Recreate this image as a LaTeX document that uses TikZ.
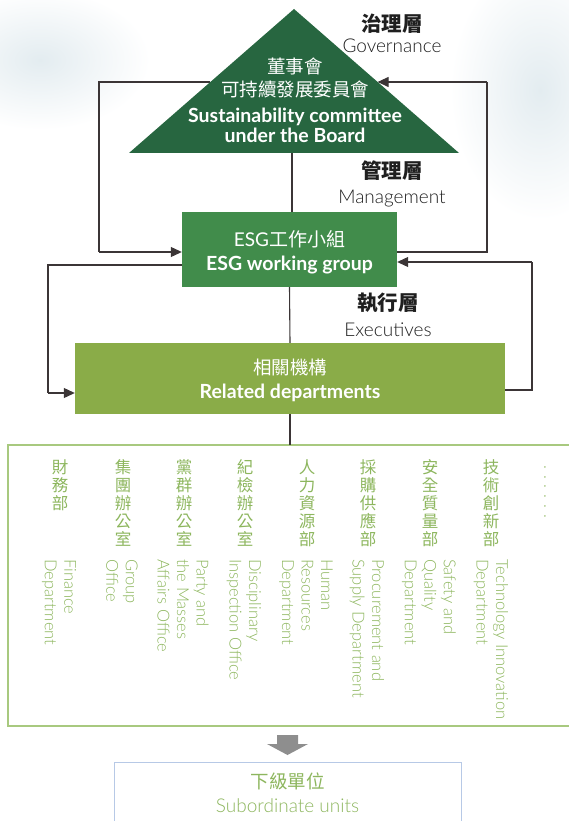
\documentclass[tikz,border=0pt]{standalone}
\usepackage{fontspec}
\setmainfont{Lato}
\newfontfamily\cjk{Noto Sans CJK TC}
\IfFontExistsTF{Lato Light}{\newfontfamily\light{Lato Light}}{\newfontfamily\light{Lato}}
\usetikzlibrary{arrows.meta}

\definecolor{boardgreen}{HTML}{276640}
\definecolor{esggreen}{HTML}{418C4B}
\definecolor{relgreen}{HTML}{8AAC48}
\definecolor{deptgreen}{HTML}{8DB65E}
\definecolor{deptline}{HTML}{A8C97F}
\definecolor{subline}{HTML}{B7C9E6}
\definecolor{linegray}{HTML}{3B3536}
\definecolor{arrowgray}{HTML}{8E8E8E}
\definecolor{bgblue}{HTML}{E3ECF0}

\begin{document}
\begin{tikzpicture}[x=1pt,y=-1pt,
  link/.style={draw=linegray, line width=1.1pt},
  tip/.style={-{Triangle[length=11pt,width=10pt]}},
  layercn/.style={inner sep=0, text=black!88, font={\cjk\bfseries\fontsize{20.5}{24}\selectfont}},
  layeren/.style={inner sep=0, anchor=base, text=black!88, font={\light\fontsize{19}{22}\selectfont}},
  boxcn/.style={inner sep=0, text=white, font={\cjk\fontsize{18.5}{22}\selectfont}},
  boxen/.style={inner sep=0, anchor=base, text=white, font={\bfseries\fontsize{19.5}{22}\selectfont}},
  deptcn/.style={anchor=north, align=center, inner sep=0, text=deptgreen, font={\cjk\fontsize{16.5}{18}\selectfont}},
  depten/.style={rotate=-90, anchor=west, align=left, inner sep=0, text=deptgreen, font={\light\fontsize{16.5}{19.5}\selectfont}}]
\useasboundingbox (0,0) rectangle (569,821);

% watercolour background
\shade[inner color=bgblue, outer color=white] (40,60) ellipse (110 and 70);
\shade[inner color=bgblue, outer color=white] (540,90) ellipse (90 and 130);

% board triangle
\coordinate (apex) at (294,9);
\coordinate (baseL) at (129,153);
\coordinate (baseR) at (459,153);
\coordinate (base) at (292,153);
\coordinate (tl) at (210.4,82);
\coordinate (tr) at (377.6,82);

% boxes
\node[fill=esggreen, minimum width=215pt, minimum height=75pt, inner sep=0] (esg) at (289.5,249.5) {};
\node[fill=relgreen, minimum width=430pt, minimum height=71pt, inner sep=0] (rel) at (290,378.5) {};
\draw[deptline, line width=1.6pt] (8,445) rectangle (590,726);
\coordinate (deptstop) at (290,445);

% feedback loops
\draw[link] (tl) -| (99,252) coordinate (bl1);
\draw[link, tip] (bl1) -- (esg.west |- bl1);
\draw[link] (esg.east |- 0,252) -| (487,82) coordinate (br1);
\draw[link, tip] (br1) -- (tr);
\draw[link] (esg.west |- 0,265) -| (48,393) coordinate (bl2);
\draw[link, tip] (bl2) -- (rel.west |- bl2);
\draw[link] (rel.east |- 0,390) -| (532,262) coordinate (br2);
\draw[link, tip] (br2) -- (esg.east |- br2);

% vertical links
\draw[link] (base) -- (base |- esg.north);
\draw[link] (esg.south) -- (rel.north);
\draw[link] (rel.south) -- (deptstop);

\fill[boardgreen] (apex) -- (baseR) -- (baseL) -- cycle;

% layer labels
\node[layercn] (gov) at (392,24) {治理層};
\node[layeren] (govEn) at (392,53) {Governance};
\node[layercn] (mgmt) at (392,171) {管理層};
\node[layeren] (mgmtEn) at (392,204) {Management};
\node[layercn] (exe) at (388,303) {執行層};
\node[layeren] (exeEn) at (388,336) {Executives};

% box texts
\node[boxcn] (boardA) at (295,66) {董事會};
\node[boxcn] (boardB) at (295,89) {可持續發展委員會};
\node[boxen] (boardC) at (295,123) {Sustainability committee};
\node[boxen] (boardD) at (295,143) {under the Board};
\node[boxcn] (esgA) at (289.5,239) {\fontsize{19}{22}\rmfamily ESG\cjk 工作小組};
\node[boxen] (esgB) at (289.5,270) {ESG working group};
\node[boxcn] (relA) at (290,367) {相關機構};
\node[boxen] (relB) at (290,398) {Related departments};

% departments
\node[deptcn] (cn1) at (60,459) {財\\務\\部};
\node[depten] (en1) at (59,559) {Finance\\Department};
\node[deptcn] (cn2) at (123,459) {集\\團\\辦\\公\\室};
\node[depten] (en2) at (122,559) {Group\\Office};
\node[deptcn] (cn3) at (184,459) {黨\\群\\辦\\公\\室};
\node[depten] (en3) at (183,559) {Party and\\the Masses\\Affairs Office};
\node[deptcn] (cn4) at (245,459) {紀\\檢\\辦\\公\\室};
\node[depten] (en4) at (244,559) {Disciplinary\\Inspection Office};
\node[deptcn] (cn5) at (307,459) {人\\力\\資\\源\\部};
\node[depten] (en5) at (306,559) {Human\\Resources\\Department};
\node[deptcn] (cn6) at (368,459) {採\\購\\供\\應\\部};
\node[depten] (en6) at (367,559) {Procurement and\\Supply Department};
\node[deptcn] (cn7) at (430,459) {安\\全\\質\\量\\部};
\node[depten] (en7) at (429,559) {Safety and\\Quality\\Department};
\node[deptcn] (cn8) at (491,459) {技\\術\\創\\新\\部};
\node[depten] (en8) at (491,559) {Technology Innovation\\Department};
\node[depten] (more) at (545,465) {.\kern6pt.\kern6pt.\kern6pt.\kern6pt.\kern6pt.};

% subordinate units
\fill[arrowgray] (277,735) -- (298,735) -- (298,744) -- (308,744) -- (287.5,755) -- (267,744) -- (277,744) -- cycle;
\draw[subline, line width=1pt] (114,840) -- (114,762) -- (461,762) -- (461,840);
\node[boxcn, text=deptgreen] (subA) at (287.5,781) {下級單位};
\node[layeren, text=deptgreen] (subB) at (287.5,812) {Subordinate units};

\end{tikzpicture}
\end{document}
